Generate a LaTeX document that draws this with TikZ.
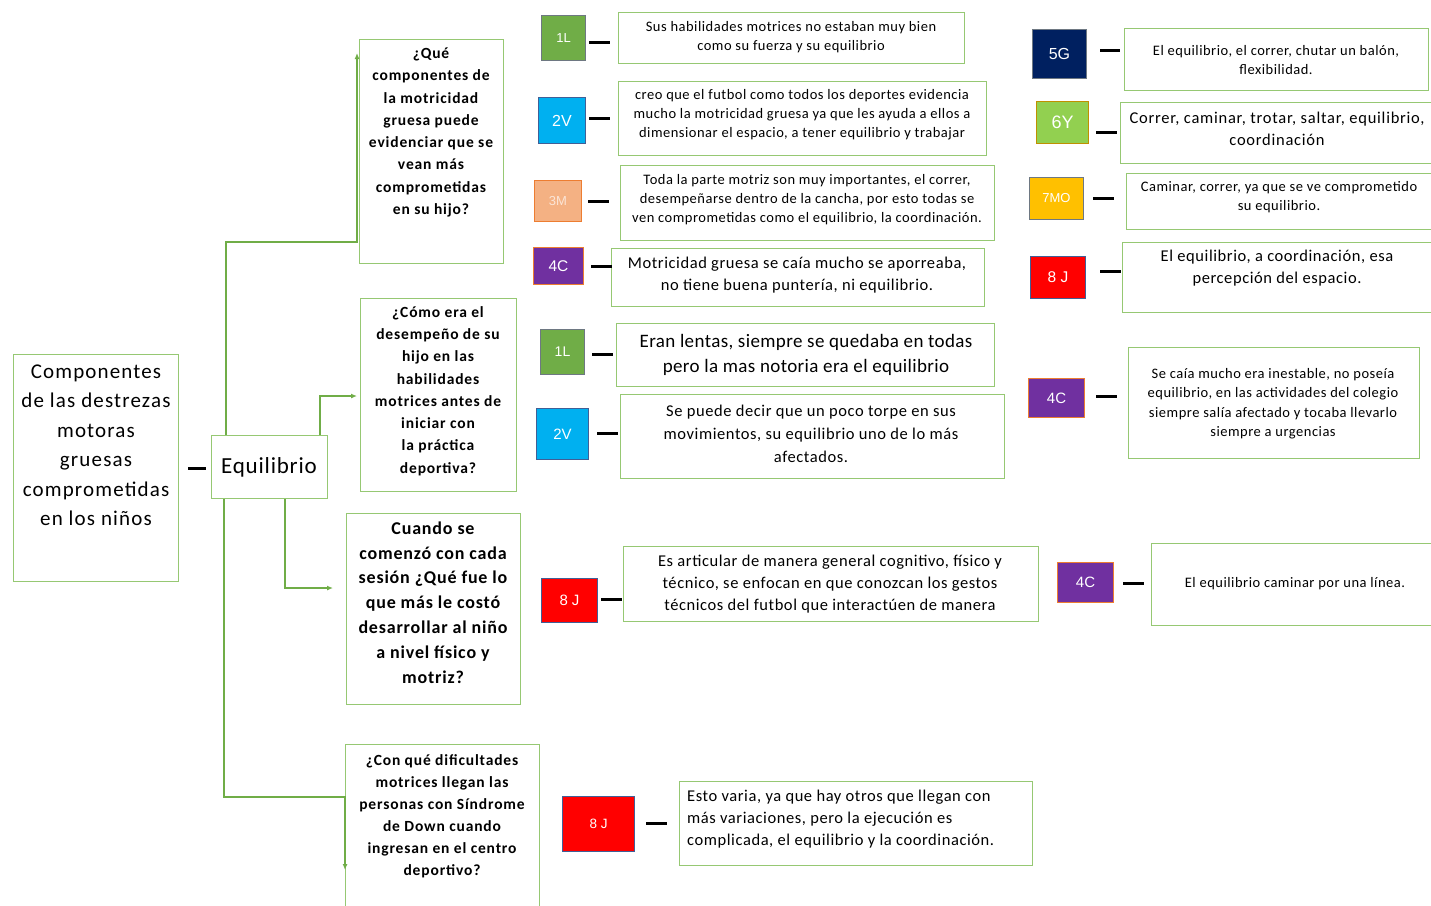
\documentclass[tikz,border=0pt]{standalone}
\usepackage{fontspec}
\setmainfont{Carlito}
\newfontfamily\lsA{Carlito}[LetterSpace=2]
\newfontfamily\lsB{Carlito}[LetterSpace=3.5]
\newfontfamily\lsC{Carlito}[LetterSpace=4.5]
\newfontfamily\lsD{Carlito}[LetterSpace=5.5]
\newfontfamily\arialf{Liberation Sans}
\usetikzlibrary{arrows.meta}

\definecolor{bgreen}{RGB}{150,200,115}
\definecolor{lgreen}{RGB}{112,173,71}
\definecolor{sqgray}{RGB}{110,120,130}
\definecolor{sqblue}{RGB}{65,95,150}
\definecolor{sqorange}{RGB}{237,125,49}
\definecolor{sqgold}{RGB}{191,144,0}
\definecolor{cgreen}{RGB}{112,173,71}
\definecolor{ccyan}{RGB}{0,176,240}
\definecolor{csalmon}{RGB}{244,177,131}
\definecolor{cpurple}{RGB}{112,48,160}
\definecolor{cnavy}{RGB}{0,32,96}
\definecolor{clime}{RGB}{146,208,80}
\definecolor{camber}{RGB}{255,192,0}
\definecolor{cred}{RGB}{255,0,0}

% framed box given by its corners: name, x1, y1, x2, y2
\newcommand{\gbx}[5]{\node[box, minimum width={#4pt-#2pt}, minimum height={#5pt-#3pt}] (#1) at (#2,#3) {};}
% coloured tag: name, x1, y1, x2, y2, fill, edge, font size, label
\newcommand{\tagsq}[9]{\node[tagbox, fill=#6, draw=#7, minimum width={#4pt-#2pt}, minimum height={#5pt-#3pt}, font=\arialf\fontsize{#8}{#8}\selectfont] (#1) at (#2,#3) {#9};}

\tikzset{
  box/.style={draw=bgreen, line width=1.4pt, fill=white, inner sep=0pt, anchor=north west},
  tagbox/.style={line width=1pt, inner sep=0pt, anchor=north west, text=white},
  txt/.style={align=center, inner sep=0pt, text=black},
  small/.style={txt, font=\lsB\fontsize{14.5}{19}\selectfont},
  medium/.style={txt, font=\lsB\fontsize{16.5}{22}\selectfont},
  question/.style={txt, font=\lsD\bfseries\fontsize{15.5}{22.3}\selectfont},
  dashline/.style={line width=2.6pt, black},
  conn/.style={draw=lgreen, line width=1.3pt},
  tip/.style={-{Latex[length=6pt,width=5pt]}},
}

\begin{document}
\begin{tikzpicture}[x=1pt,y=-1pt]
\useasboundingbox (0,0) rectangle (1431,905);
\fill[white] (0,0) rectangle (1431,905);

% root and branch node
\gbx{root}{13}{354}{178}{581}
\node[txt, font=\lsD\fontsize{21}{29.5}\selectfont] (troot) at (96,445.5)
  {Componentes\\de las destrezas\\motoras\\gruesas\\comprometidas\\en los niños};
\gbx{eq}{211}{435}{327}{498}
\node[txt, font=\lsB\fontsize{23}{26}\selectfont] (teq) at (269,467) {Equilibrio};
\draw[dashline] ([shift={(9,0.5)}]root.east) -- ++(18,0);

% question boxes
\gbx{q1}{359}{39}{503}{263}
\node[question] (tq1) at (431,132.5)
  {¿Qué\\componentes de\\la motricidad\\gruesa puede\\evidenciar que se\\vean más\\comprometidas\\en su hijo?};
\gbx{q2}{360}{298}{516}{491}
\node[question] (tq2) at (438,391)
  {¿Cómo era el\\desempeño de su\\hijo en las\\habilidades\\motrices antes de\\iniciar con\\la práctica\\deportiva?};
\gbx{q3}{346}{513}{520}{704}
\node[txt, font=\lsC\bfseries\fontsize{18}{24.8}\selectfont] (tq3) at (433,602.5)
  {Cuando se\\comenzó con cada\\sesión ¿Qué fue lo\\que más le costó\\desarrollar al niño\\a nivel físico y\\motriz?};
\gbx{q4}{345}{744}{539}{915}
\node[txt, font=\lsD\bfseries\fontsize{15.5}{22}\selectfont] (tq4) at (442,816)
  {¿Con qué dificultades\\motrices llegan las\\personas con Síndrome\\de Down cuando\\ingresan en el centro\\deportivo?};

% branches from the central node
\draw[conn, tip] ([xshift=15pt]eq.north west) |- ([shift={(-2,203)}]q1.north west) -- ([shift={(-2,14)}]q1.north west);
\draw[conn, tip] ([xshift=109pt]eq.north west) |- ([shift={(-3,98)}]q2.north west);
\draw[conn, tip] ([xshift=74pt]eq.south west) |- ([shift={(-13,75)}]q3.north west);
\draw[conn, tip] ([xshift=13pt]eq.south west) |- ([shift={(0,53)}]q4.north west) -- ([shift={(0,126)}]q4.north west);

% answers, first column
\tagsq{s1}{541}{15}{585}{60}{cgreen}{sqgray}{13}{1L}
\gbx{a1}{618}{12}{964}{63}
\node[small] (ta1) at (791,37)
  {Sus habilidades motrices no estaban muy bien\\como su fuerza y su equilibrio};
\draw[dashline] ([shift={(3,4.5)}]s1.east) -- ++(21,0);

\tagsq{s2}{538}{97}{585}{143}{ccyan}{sqblue}{16}{2V}
\gbx{a2}{618}{81}{986}{155}
\node[small] (ta2) at (802,115)
  {creo que el futbol como todos los deportes evidencia\\mucho la motricidad gruesa ya que les ayuda a ellos a\\dimensionar el espacio, a tener equilibrio y trabajar};
\draw[dashline] ([shift={(3,-2)}]s2.east) -- ++(21,0);

\node[tagbox, fill=csalmon, draw=sqorange, minimum width=47pt, minimum height=41pt,
  text={rgb,255:red,251;green,229;blue,214}, font=\arialf\fontsize{13}{13}\selectfont] (s3) at (534,180) {3M};
\gbx{a3}{620}{165}{994}{240}
\node[small] (ta3) at (807,200)
  {Toda la parte motriz son muy importantes, el correr,\\desempeñarse dentro de la cancha, por esto todas se\\ven comprometidas como el equilibrio, la coordinación.};
\draw[dashline] ([shift={(6,0.5)}]s3.east) -- ++(21,0);

\tagsq{s4}{533}{247}{583}{284}{cpurple}{sqorange}{15.5}{4C}
\gbx{a4}{611}{248}{984}{306}
\node[medium] (ta4) at (797,275)
  {Motricidad gruesa se caía mucho se aporreaba,\\no tiene buena puntería, ni equilibrio.};
\draw[dashline] ([shift={(7,0.5)}]s4.east) -- ++(21,0);

\tagsq{s5}{540}{329}{584}{374}{cgreen}{sqgray}{14}{1L}
\gbx{a5}{616}{323}{994}{386}
\node[txt, font=\lsA\fontsize{19}{25}\selectfont] (ta5) at (806,355)
  {Eran lentas, siempre se quedaba en todas\\pero la mas notoria era el equilibrio};
\draw[dashline] ([shift={(7,2.5)}]s5.east) -- ++(21,0);

\tagsq{s6}{536}{408}{588}{459}{ccyan}{sqblue}{15}{2V}
\gbx{a6}{620}{394}{1004}{478}
\node[medium, font=\lsB\fontsize{16.5}{23}\selectfont] (ta6) at (811,433.5)
  {Se puede decir que un poco torpe en sus\\movimientos, su equilibrio uno de lo más\\afectados.};
\draw[dashline] ([shift={(8,-0.5)}]s6.east) -- ++(21,0);

\tagsq{s7}{541}{578}{597}{622}{cred}{sqblue}{15}{8 J}
\gbx{a7}{623}{546}{1038}{621}
\node[medium] (ta7) at (830,584.5)
  {Es articular de manera general cognitivo, físico y\\técnico, se enfocan en que conozcan los gestos\\técnicos del futbol que interactúen de manera};
\draw[dashline] ([shift={(3,-1)}]s7.east) -- ++(21,0);

\tagsq{s8}{562}{796}{634}{851}{cred}{sqblue}{13.5}{8 J}
\gbx{a8}{679}{781}{1032}{865}
\node[medium, align=left, anchor=west] (ta8) at (687,819)
  {Esto varia, ya que hay otros que llegan con\\más variaciones, pero la ejecución es\\complicada, el equilibrio y la coordinación.};
\draw[dashline] ([shift={(11,-0.5)}]s8.east) -- ++(21,0);

% answers, second column
\tagsq{r1}{1032}{29}{1086}{78}{cnavy}{sqgray}{16}{5G}
\gbx{b1}{1124}{28}{1428}{90}
\node[small] (tb1) at (1276,60.5)
  {El equilibrio, el correr, chutar un balón,\\flexibilidad.};
\draw[dashline] ([shift={(13,-3.5)}]r1.east) -- ++(20,0);

\tagsq{r2}{1036}{101}{1088}{143}{clime}{sqgold}{18}{6Y}
\gbx{b2}{1120}{102}{1440}{163}
\node[txt, font=\lsC\fontsize{16.5}{22}\selectfont] (tb2) at (1277,129)
  {Correr, caminar, trotar, saltar, equilibrio,\\coordinación};
\draw[dashline] ([shift={(7,10)}]r2.east) -- ++(21,0);

\tagsq{r3}{1029}{177}{1083}{219}{camber}{sqgray}{13}{7MO}
\gbx{b3}{1126}{173}{1440}{229}
\node[small] (tb3) at (1279,197.5)
  {Caminar, correr, ya que se ve comprometido\\su equilibrio.};
\draw[dashline] ([shift={(9,0)}]r3.east) -- ++(21,0);

\tagsq{r4}{1030}{256}{1085}{298}{cred}{sqblue}{15.5}{8 J}
\gbx{b4}{1122}{242}{1440}{312}
\node[medium] (tb4) at (1277,268.5)
  {El equilibrio, a coordinación, esa\\percepción del espacio.};
\draw[dashline] ([shift={(14,-6)}]r4.east) -- ++(21,0);

\tagsq{r5}{1028}{378}{1084}{417}{cpurple}{sqorange}{15}{4C}
\gbx{b5}{1128}{347}{1419}{458}
\node[small, font=\lsB\fontsize{14.5}{19.5}\selectfont] (tb5) at (1273,403.5)
  {Se caía mucho era inestable, no poseía\\equilibrio, en las actividades del colegio\\siempre salía afectado y tocaba llevarlo\\siempre a urgencias};
\draw[dashline] ([shift={(11,-1.5)}]r5.east) -- ++(21,0);

\tagsq{r6}{1057}{562}{1113}{602}{cpurple}{sqorange}{15}{4C}
\gbx{b6}{1151}{543}{1440}{625}
\node[small] (tb6) at (1295,584)
  {El equilibrio caminar por una línea.};
\draw[dashline] ([shift={(9,1)}]r6.east) -- ++(21,0);
\end{tikzpicture}
\end{document}
